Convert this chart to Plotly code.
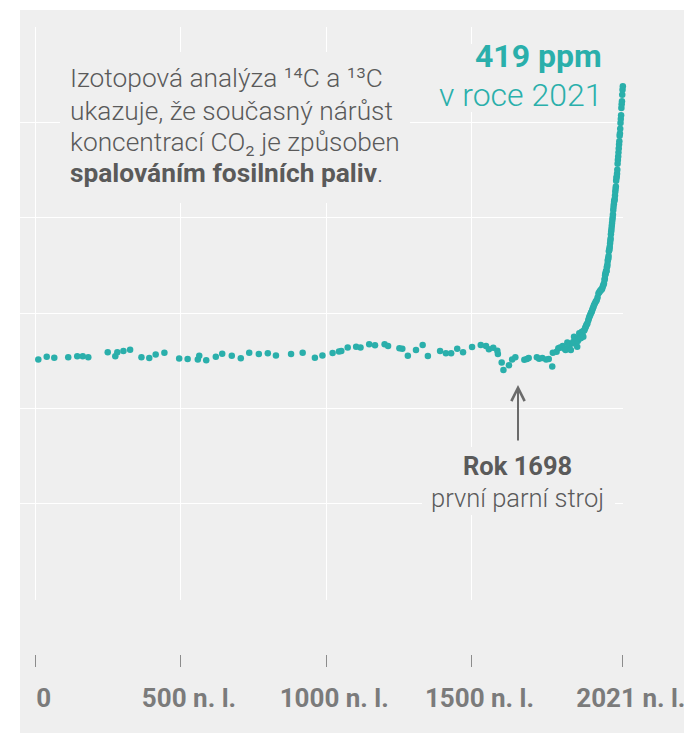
import plotly.graph_objects as go

# ---------------- data ----------------
years = [
    9, 38, 64, 112, 143, 162, 181, 248, 274, 281, 302, 325, 364, 391, 413, 443,
    494, 523, 558, 563, 587, 620, 642, 675, 706, 735, 768, 799, 827, 879, 919,
    961, 987, 1022, 1044, 1052, 1074, 1103, 1118, 1148, 1168, 1201, 1213, 1252,
    1262, 1281, 1309, 1332, 1350, 1392, 1412, 1430, 1451, 1471, 1502, 1532, 1550,
    1560, 1575, 1589, 1591, 1604, 1610, 1629, 1640, 1651, 1682, 1691, 1697, 1725,
    1733, 1744, 1757, 1766, 1778, 1780, 1793, 1799, 1805, 1814, 1819, 1824, 1830,
    1836, 1842, 1847, 1850, 1853, 1856, 1859, 1862, 1864, 1866, 1868, 1871, 1873,
    1875, 1877, 1878, 1880, 1882, 1885, 1887, 1889, 1891, 1893, 1895, 1897, 1899,
    1902, 1904, 1906, 1908, 1910, 1912, 1914, 1916, 1918, 1920, 1922, 1925, 1928,
    1931, 1934, 1937, 1940, 1942, 1944, 1946, 1948, 1950, 1952, 1954, 1956,
    1958, 1959, 1960, 1961, 1962, 1963, 1964, 1965, 1966, 1967, 1968, 1969, 1970,
    1971, 1972, 1973, 1974, 1975, 1976, 1977, 1978, 1979, 1980, 1981, 1982, 1983,
    1984, 1985, 1986, 1987, 1988, 1989, 1990, 1991, 1992, 1993, 1994, 1995, 1996,
    1997, 1998, 1999, 2000, 2001, 2002, 2003, 2004, 2005, 2006, 2007, 2008, 2009,
    2010, 2011, 2012, 2013, 2014, 2015, 2016, 2017, 2018, 2019, 2020, 2021,
]
co2_ppm = [
    275.8, 277.2, 276.7, 276.9, 277.4, 277.4, 276.9, 279.5, 277.5, 279.5, 280.2,
    280.9, 277.0, 276.5, 278.4, 279.3, 276.3, 276.0, 275.8, 277.7, 275.3, 277.2,
    278.8, 277.7, 276.4, 279.3, 278.6, 279.0, 277.9, 278.6, 279.3, 276.7, 277.9,
    279.1, 280.0, 280.2, 282.1, 282.4, 282.1, 283.7, 283.2, 283.8, 282.9, 281.6,
    281.4, 277.7, 280.7, 283.3, 277.6, 280.2, 279.0, 279.0, 281.4, 279.5, 282.3,
    283.3, 282.8, 281.1, 281.9, 280.3, 278.6, 274.2, 270.2, 272.8, 275.8, 277.0,
    275.6, 276.0, 276.5, 277.0, 276.1, 276.5, 275.8, 276.0, 272.1, 279.3, 279.8,
    281.6, 282.0, 282.9, 281.5, 280.7, 284.7, 283.2, 280.7, 284.2, 285.0, 287.7,
    285.2, 286.0, 286.4, 282.4, 285.5, 287.2, 289.5, 286.8, 288.2, 287.0, 289.0,
    290.3, 288.6, 287.7, 290.8, 291.2, 292.1, 292.8, 293.6, 294.2, 294.7, 296.2,
    297.3, 298.2, 298.9, 299.6, 300.4, 300.8, 301.8, 302.7, 303.4, 304.3, 305.3,
    306.2, 306.9, 308.3, 310.4, 311.0, 311.6, 312.0, 312.3, 312.5, 313.0, 314.0,
    314.8, 315.6,
    317.5, 318.3, 320.0, 320.6, 321.0, 322.1, 322.2, 322.2, 324.1, 324.6, 325.6,
    327.4, 328.2, 328.9, 330.1, 332.5, 333.1, 333.9, 334.9, 336.6, 338.0, 339.3,
    341.5, 343.0, 344.3, 345.9, 347.4, 348.9, 350.2, 351.8, 354.2, 355.7, 357.2,
    358.7, 359.2, 359.9, 361.8, 363.7, 365.2, 366.5, 369.6, 371.0, 371.7, 373.2,
    375.3, 378.5, 380.4, 382.3, 384.3, 386.4, 388.5, 390.2, 393.2, 394.3, 396.8,
    399.8, 401.9, 403.9, 407.7, 409.7, 411.2, 414.7, 417.3, 419.1,
]
tick_years = [0, 500, 1000, 1500, 2021]
tick_labels = ["0", "500 n. l.", "1000 n. l.", "1500 n. l.", "2021 n. l."]
grid_ppm = [150, 200, 250, 300, 350, 400, 450]

note_lines = [
    "Izotopová analýza ¹⁴C a ¹³C",
    "ukazuje, že současný nárůst",
    "koncentrací CO₂ je způsoben",
    "<b>spalováním fosilních paliv</b>.",
]
latest_lines = ["<b>419 ppm</b>", "v roce 2021"]
event_lines = ["<b>Rok 1698</b>", "první parní stroj"]

# ---------------- styling ----------------
OFF = 0                      # page body margin removed below (post_script)
W, H = 684, 733
ML, MR, MT, MB = 20, 61, 27, 79
PW = W - ML - MR
PH = H - MT - MB
GRAY = "#efefef"
TEAL = "#2aafab"
TEXT = "#5a5a5a"
FONT = "Roboto"


def px(xs):
    """screen x pixel -> paper fraction"""
    return (xs - OFF - ML) / PW


def py(ys):
    """screen y pixel -> paper fraction"""
    return (H - MB - (ys - OFF)) / PH


def box(x0, y0, x1, y1, color, layer="above"):
    return dict(type="rect", xref="paper", yref="paper", layer=layer,
                x0=px(x0), x1=px(x1), y0=py(y1), y1=py(y0),
                fillcolor=color, line=dict(width=0))


fig = go.Figure()
fig.add_trace(go.Scatter(
    x=years, y=co2_ppm, mode="markers",
    marker=dict(size=6.5, color=TEAL, line=dict(width=0)),
    cliponaxis=False, hoverinfo="skip", showlegend=False,
))
fig.add_trace(go.Scatter(
    x=[None], y=[None], xaxis="x2", yaxis="y", mode="markers",
    hoverinfo="skip", showlegend=False,
))

annotations = []
for txt, yc in zip(note_lines, [78, 110.5, 141.5, 172.5]):
    annotations.append(dict(
        xref="paper", yref="paper", x=px(68), y=py(yc),
        xanchor="left", yanchor="middle", showarrow=False, text=txt,
        font=dict(family=FONT, size=26.3, color=TEXT, weight=300)))
for txt, yc in zip(latest_lines, [56, 95]):
    annotations.append(dict(
        xref="paper", yref="paper", x=px(604), y=py(yc),
        xanchor="right", yanchor="middle", showarrow=False, text=txt,
        font=dict(family=FONT, size=32, color=TEAL, weight=300)))
for txt, yc in zip(event_lines, [466, 498]):
    annotations.append(dict(
        xref="paper", yref="paper", x=px(517.5), y=py(yc),
        xanchor="center", yanchor="middle", showarrow=False, text=txt,
        font=dict(family=FONT, size=25.5, color=TEXT, weight=300)))
annotations.append(dict(
    xref="paper", yref="paper", x=px(518), y=py(385),
    ax=0, ay=57, text="", showarrow=True,
    arrowhead=5, arrowsize=1.3, arrowwidth=2, arrowcolor="#6b6b6b"))

xrange = [-54, 2021.6]
fig.update_layout(
    width=W, height=H,
    margin=dict(l=ML, r=MR, t=MT, b=MB, autoexpand=False),
    paper_bgcolor=GRAY, plot_bgcolor=GRAY,
    font=dict(family=FONT, color=TEXT),
    xaxis=dict(range=xrange, tickvals=tick_years, showticklabels=False,
               showgrid=True, gridcolor="white", gridwidth=1.3,
               zeroline=False, showline=False, ticks=""),
    xaxis2=dict(overlaying="x", anchor="free", position=0, range=xrange,
                tickvals=tick_years, ticktext=tick_labels,
                ticks="outside", ticklen=12, tickwidth=1.3, tickcolor="#8c8c8c",
                showgrid=False, zeroline=False, showline=False,
                tickfont=dict(family=FONT, size=26, color="#7b7b7b", weight=700),
                ticklabelshift=8, ticklabelstandoff=9,
                ticklabeloverflow="allow"),
    yaxis=dict(domain=[0.0868, 1], range=[149.8, 450.2], tickvals=grid_ppm,
               showticklabels=False, showgrid=True, gridcolor="white",
               gridwidth=1.3, zeroline=False, showline=False, ticks=""),
    shapes=[
        box(0, 0, W, 10, "white", layer="below"),
        box(0, 0, 20, H, "white", layer="below"),
        box(60, 52, 410, 203, GRAY),
        box(435, 44, 606, 112, GRAY),
        box(422, 447, 615, 515, GRAY),
    ],
    annotations=annotations,
)

fig.write_html(
    "out.html",
    config={"displayModeBar": False},
    post_script=("document.body.style.margin='0';"
                 "document.documentElement.style.overflow='hidden';"
                 "document.body.style.overflow='hidden';"),
)
